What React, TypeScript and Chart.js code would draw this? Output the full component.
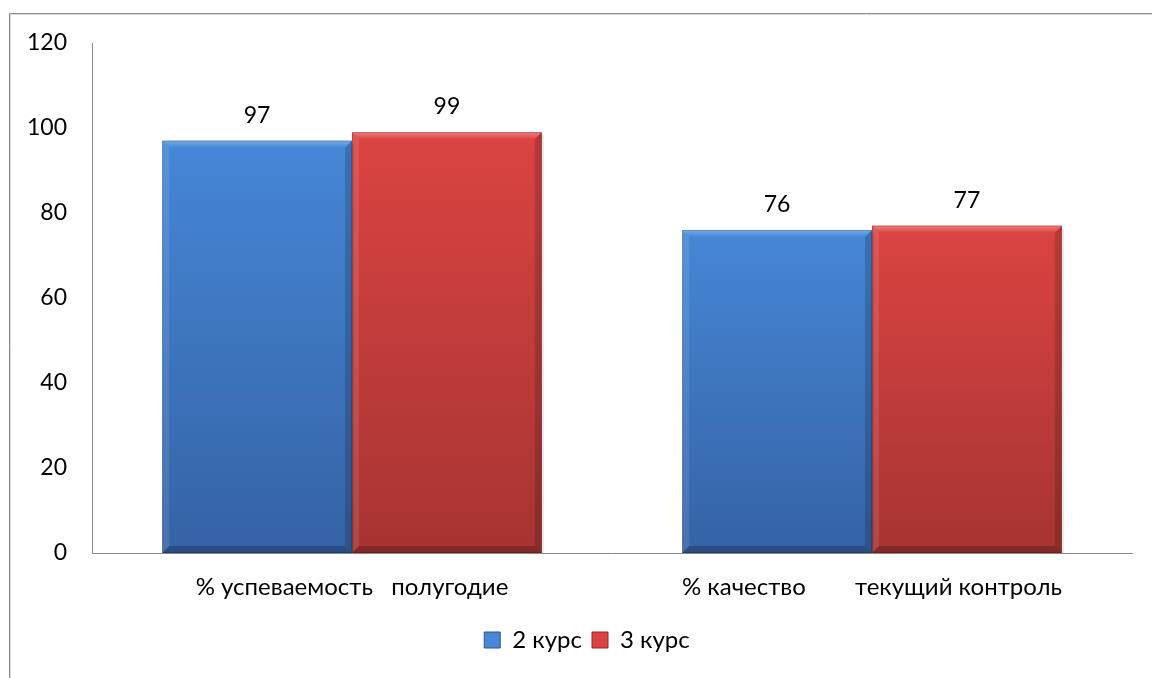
import React, { useEffect, useRef } from "react";
import { Chart, registerables } from "chart.js";

Chart.register(...registerables);

const categories = ["% успеваемость   полугодие", "% качество        текущий контроль"];
const seriesNames = ["2 курс", "3 курс"];
const course2 = [97, 76];
const course3 = [99, 77];
const yTicks = [0, 20, 40, 60, 80, 100, 120];

const FONT = "Lato";

const palette = [
  { top: "#4687d7", bottom: "#3562a5", light: "#79aee9", dark: "#2c5590" },
  { top: "#db4442", bottom: "#a63432", light: "#ee7f7c", dark: "#8c2a28" },
];

export default function App() {
  const ref = useRef<HTMLCanvasElement | null>(null);

  useEffect(() => {
    document.body.style.margin = "0";
    const canvas = ref.current!;

    const gradFor = (si: number) => (ctx: any) => {
      const chart = ctx.chart;
      const y = chart.scales && chart.scales.y;
      if (!chart.chartArea || !y || ctx.raw === undefined) return palette[si].top;
      const top = y.getPixelForValue(ctx.raw);
      const bottom = y.getPixelForValue(0);
      const g = chart.ctx.createLinearGradient(0, top, 0, bottom);
      g.addColorStop(0, palette[si].top);
      g.addColorStop(1, palette[si].bottom);
      return g;
    };

    const framePlugin = {
      id: "frame",
      beforeDraw(chart: any) {
        const c = chart.ctx;
        c.save();
        c.fillStyle = "#ffffff";
        c.fillRect(0, 0, chart.width, chart.height);
        c.lineWidth = 1;
        c.strokeStyle = "#dcdcdc";
        c.beginPath();
        c.moveTo(10.5, chart.height);
        c.lineTo(10.5, 14.5);
        c.lineTo(chart.width, 14.5);
        c.stroke();
        c.strokeStyle = "#8a8a8a";
        c.beginPath();
        c.moveTo(9.5, chart.height);
        c.lineTo(9.5, 13.5);
        c.lineTo(chart.width, 13.5);
        c.stroke();
        c.restore();
      },
    };

    const bevelPlugin = {
      id: "bevel",
      afterDatasetsDraw(chart: any) {
        const c = chart.ctx;
        const b = 7;
        chart.data.datasets.forEach((ds: any, si: number) => {
          const meta = chart.getDatasetMeta(si);
          meta.data.forEach((el: any, i: number) => {
            const { x, y, base, width } = el.getProps(["x", "y", "base", "width"], true);
            const l = x - width / 2;
            const r = x + width / 2;
            const t = y;
            const bt = base;
            c.save();
            c.fillStyle = "rgba(0,0,0,0.10)";
            c.fillRect(r, t + 3, 2, bt - t - 3);
            const tg = c.createLinearGradient(0, t, 0, t + b);
            tg.addColorStop(0, palette[si].light);
            tg.addColorStop(1, palette[si].top);
            c.fillStyle = tg;
            c.beginPath();
            c.moveTo(l, t);
            c.lineTo(r, t);
            c.lineTo(r - b, t + b);
            c.lineTo(l + b, t + b);
            c.closePath();
            c.fill();
            c.fillStyle = "rgba(255,255,255,0.10)";
            c.beginPath();
            c.moveTo(l, t);
            c.lineTo(l + b, t + b);
            c.lineTo(l + b, bt - b);
            c.lineTo(l, bt);
            c.closePath();
            c.fill();
            c.fillStyle = "rgba(0,0,0,0.16)";
            c.beginPath();
            c.moveTo(r, t);
            c.lineTo(r - b, t + b);
            c.lineTo(r - b, bt - b);
            c.lineTo(r, bt);
            c.closePath();
            c.fill();
            c.fillStyle = "rgba(0,0,0,0.22)";
            c.beginPath();
            c.moveTo(l, bt);
            c.lineTo(l + b, bt - b);
            c.lineTo(r - b, bt - b);
            c.lineTo(r, bt);
            c.closePath();
            c.fill();
            c.strokeStyle = "rgba(0,0,0,0.18)";
            c.lineWidth = 1;
            c.strokeRect(l + 0.5, t + 0.5, width - 1, bt - t - 1);
            c.fillStyle = "#000";
            c.font = `23px ${FONT}`;
            c.textAlign = "center";
            c.textBaseline = "alphabetic";
            c.fillText(String(ds.data[i]), x, t - 18);
            c.restore();
          });
        });
      },
    };

    const chart = new Chart(canvas, {
      type: "bar",
      data: {
        labels: categories,
        datasets: [
          { label: seriesNames[0], data: course2, backgroundColor: gradFor(0), borderWidth: 0 },
          { label: seriesNames[1], data: course3, backgroundColor: gradFor(1), borderWidth: 0 },
        ],
      },
      options: {
        responsive: false,
        animation: false,
        layout: { padding: { left: 22, right: 0, top: 43, bottom: 16 } },
        datasets: {
          bar: { barPercentage: 1, categoryPercentage: 0.73 },
        },
        plugins: {
          tooltip: { enabled: false },
          legend: {
            display: true,
            position: "bottom",
            labels: {
              font: { family: FONT, size: 24 },
              color: "#000",
              boxWidth: 16,
              boxHeight: 16,
              padding: 10,
              generateLabels: () =>
                seriesNames.map((n, i) => ({
                  text: n,
                  fillStyle: palette[i].top,
                  strokeStyle: palette[i].dark,
                  lineWidth: 1,
                  hidden: false,
                  datasetIndex: i,
                })),
            },
          },
        },
        scales: {
          x: {
            grid: { display: false, drawTicks: false },
            border: { display: true, color: "#8a8a8a", width: 1 },
            ticks: {
              font: { family: FONT, size: 24 },
              color: "#000",
              padding: 20,
              maxRotation: 0,
              autoSkip: false,
            },
            afterFit: (s: any) => {
              s.height = 65;
            },
          },
          y: {
            min: 0,
            max: 120,
            afterBuildTicks: (s: any) => {
              s.ticks = yTicks.map((v) => ({ value: v }));
            },
            grid: { display: false, drawTicks: false },
            border: { display: true, color: "#8a8a8a", width: 1 },
            ticks: {
              font: { family: FONT, size: 23 },
              color: "#000",
              padding: 25,
            },
            afterFit: (s: any) => {
              s.width = 70;
            },
          },
          yRightSpace: {
            position: "right",
            display: true,
            grid: { display: false, drawTicks: false },
            border: { display: false },
            ticks: { display: false },
            afterFit: (s: any) => {
              s.width = 20;
            },
          },
        },
      },
      plugins: [framePlugin, bevelPlugin],
    });

    return () => chart.destroy();
  }, []);

  return (
    <div style={{ width: 1152, height: 678 }}>
      <canvas ref={ref} width={1152} height={678} style={{ display: "block" }} />
    </div>
  );
}
